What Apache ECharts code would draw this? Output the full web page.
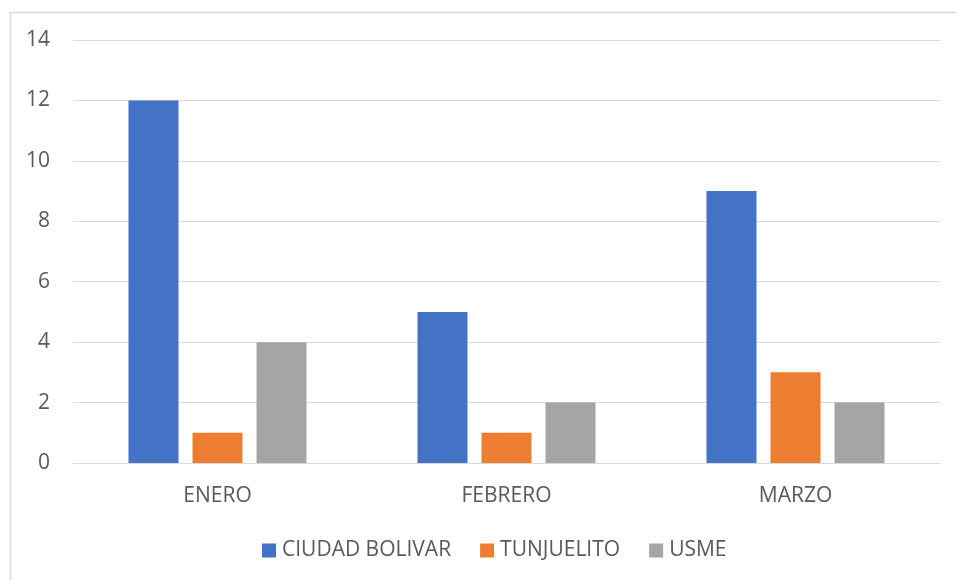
<!DOCTYPE html>
<html>
<head>
<meta charset="utf-8">
<script src="https://cdn.jsdelivr.net/npm/echarts@6/dist/echarts.min.js"></script>
<style>
  html, body { margin: 0; padding: 0; background: #fff; }
  #chart { width: 956px; height: 580px; }
</style>
</head>
<body>
<div id="chart"></div>
<script>
// Monthly counts per locality
const months = ['ENERO', 'FEBRERO', 'MARZO'];
const ciudadBolivar = [12, 5, 9];
const tunjuelito = [1, 1, 3];
const usme = [4, 2, 2];
const seriesNames = ['CIUDAD BOLIVAR', 'TUNJUELITO', 'USME'];
const seriesColors = ['#4472C4', '#ED7D31', '#A5A5A5'];

const FONT = 'Open Sans';
const FONT_SIZE = 21;
const TEXT = '#595959';
const GRID = '#D9D9D9';

const chart = echarts.init(document.getElementById('chart'), null, { renderer: 'canvas' });

function barSeries(name, data, color) {
  return {
    name: name,
    type: 'bar',
    data: data,
    barWidth: 50,
    barGap: '28%',
    itemStyle: { color: color },
    emphasis: { disabled: true }
  };
}

chart.setOption({
  animation: false,
  color: seriesColors,
  graphic: [{
    type: 'rect',
    left: 8,
    top: 10,
    shape: { x: 0, y: 0, width: 960, height: 590 },
    style: { fill: 'none', stroke: GRID, lineWidth: 1.5 },
    silent: true,
    z: -1
  }],
  grid: { left: 73, right: 16, top: 40, bottom: 117, containLabel: false },
  legend: {
    top: 535,
    left: 257,
    padding: [5, 5, 5, 5],
    itemWidth: 14,
    itemHeight: 14,
    itemGap: 29,
    icon: 'rect',
    textStyle: { fontFamily: FONT, fontSize: FONT_SIZE, color: TEXT, padding: [0, 0, 0, 1] },
    data: seriesNames
  },
  xAxis: {
    type: 'category',
    data: months,
    axisLine: { show: true, lineStyle: { color: GRID, width: 1 } },
    axisTick: { show: false },
    axisLabel: { fontFamily: FONT, fontSize: FONT_SIZE, color: TEXT, margin: 23 }
  },
  yAxis: {
    type: 'value',
    min: 0,
    max: 14,
    interval: 2,
    axisLine: { show: false },
    axisTick: { show: false },
    splitLine: { lineStyle: { color: GRID, width: 1 } },
    axisLabel: { fontFamily: FONT, fontSize: FONT_SIZE, color: TEXT, margin: 23 }
  },
  series: [
    barSeries(seriesNames[0], ciudadBolivar, seriesColors[0]),
    barSeries(seriesNames[1], tunjuelito, seriesColors[1]),
    barSeries(seriesNames[2], usme, seriesColors[2])
  ]
});
</script>
</body>
</html>
